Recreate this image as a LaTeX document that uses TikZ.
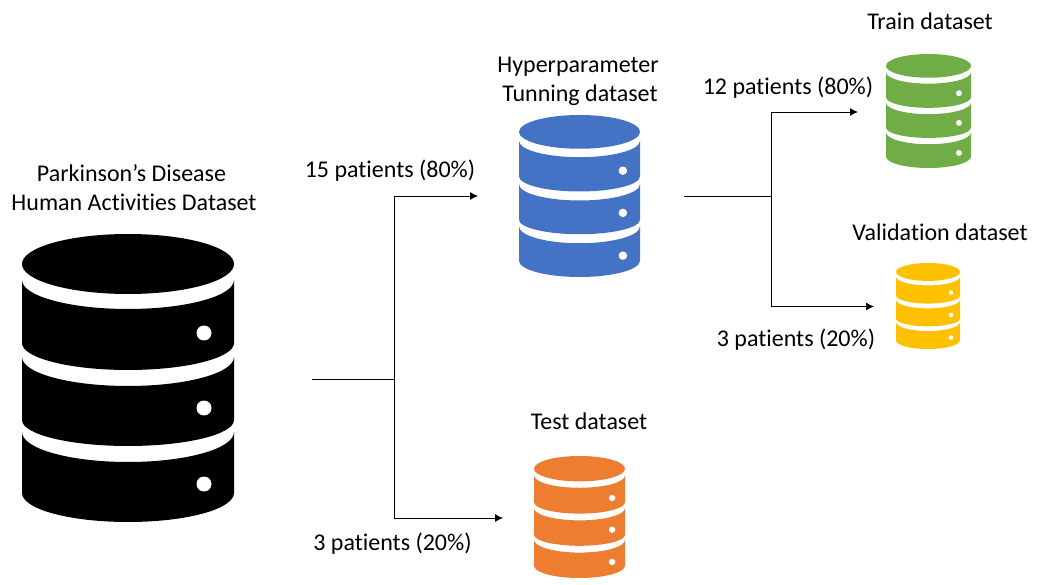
\documentclass[tikz,border=0pt]{standalone}
\usepackage{fontspec}
\setmainfont[Ligatures=NoCommon]{Carlito}
\definecolor{dbblue}{HTML}{4472C4}
\definecolor{dbgreen}{HTML}{70AD47}
\definecolor{dbyellow}{HTML}{FFC000}
\definecolor{dborange}{HTML}{ED7D31}
\newcommand{\dbicon}[6]{% x0, y0 (top, px), width, height, colour, name
  \begin{scope}[shift={(#1,-#2)},xscale=#3/212,yscale=#4/288,fill=#5,draw=none]
    \coordinate (#6) at (106,-144);
    \fill (106,-30) ellipse [x radius=106,y radius=30];
    \fill (0,-46) arc [start angle=180,end angle=360,x radius=106,y radius=29]
      -- (212,-109) arc [start angle=0,end angle=-180,x radius=106,y radius=27] -- cycle;
    \fill (0,-123) arc [start angle=180,end angle=360,x radius=106,y radius=29]
      -- (212,-186) arc [start angle=0,end angle=-180,x radius=106,y radius=26] -- cycle;
    \fill (0,-198) arc [start angle=180,end angle=360,x radius=106,y radius=30]
      -- (212,-259) arc [start angle=0,end angle=-180,x radius=106,y radius=29] -- cycle;
    \fill[white] (182,-99) ellipse [x radius=7.5,y radius=7.5];
    \fill[white] (182,-174) ellipse [x radius=7.5,y radius=7.5];
    \fill[white] (182,-250) ellipse [x radius=7.5,y radius=7.5];
  \end{scope}}
\tikzset{
  lbl/.style={anchor=base,inner sep=0pt,font=\fontsize{24}{28}\selectfont,text=black},
  conn/.style={draw=black,line width=0.9pt},
  arr/.style={conn,-{Latex[length=8pt,width=8pt]}}
}
\usetikzlibrary{arrows.meta}
\begin{document}
\begin{tikzpicture}[x=1pt,y=1pt]
  \useasboundingbox (0,0) rectangle (1042,-585);
  \fill[white] (0,0) rectangle (1042,-585);
  \dbicon{22}{234}{212}{288}{black}{dbmain}
  \dbicon{519}{115}{121}{162}{dbblue}{dbhyper}
  \dbicon{886}{54}{85}{114}{dbgreen}{dbtrain}
  \dbicon{896}{263}{64}{86}{dbyellow}{dbval}
  \dbicon{534}{456}{91}{122}{dborange}{dbtest}

  \node[lbl] (t1) at (131.5,-181.5) {Parkinson’s Disease};
  \node[lbl] (t2) at (134,-210.5) {Human Activities Dataset};
  \node[lbl] (t3) at (578,-72.5) {Hyperparameter};
  \node[lbl] (t4) at (580,-101.5) {Tunning dataset};
  \node[lbl] (t5) at (930,-29.5) {Train dataset};
  \node[lbl] (t6) at (940,-240.5) {Validation dataset};
  \node[lbl] (t7) at (589,-429.5) {Test dataset};
  \node[lbl] (p1) at (390,-177.5) {15 patients (80\%)};
  \node[lbl] (p2) at (392.5,-550) {3 patients (20\%)};
  \node[lbl] (p3) at (788,-94.5) {12 patients (80\%)};
  \node[lbl] (p4) at (796,-346.5) {3 patients (20\%)};

  \coordinate (a0) at (312,-379.5);
  \coordinate (aj) at (394,-379.5);
  \coordinate (a1) at (478,-196);
  \coordinate (a2) at (503,-518);
  \coordinate (b0) at (684,-196.5);
  \coordinate (bj) at (771,-196.5);
  \coordinate (b1) at (858,-112);
  \coordinate (b2) at (874,-306.5);
  \draw[conn] (a0) -- (aj);
  \draw[arr] (aj) |- (a1);
  \draw[arr] (aj) |- (a2);
  \draw[conn] (b0) -- (bj);
  \draw[arr] (bj) |- (b1);
  \draw[arr] (bj) |- (b2);
\end{tikzpicture}
\end{document}
